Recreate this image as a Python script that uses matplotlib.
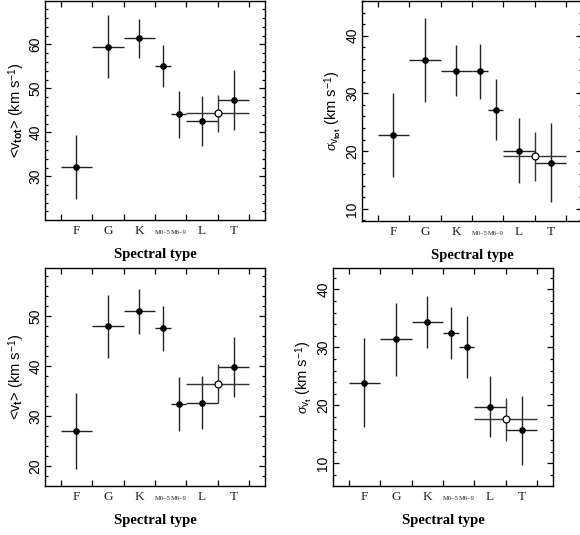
import numpy as np
import matplotlib
matplotlib.use("Agg")
import matplotlib.pyplot as plt
from matplotlib.ticker import MultipleLocator, FixedLocator

# ── spectral-type bins (x = position on the spectral type axis) ─────────────
spt_names = ["F", "G", "K", "M0-5", "M6-9", "L", "T"]
bin_lo = [0.0, 1.0, 2.0, 3.0, 3.5, 4.0, 5.0]
bin_hi = [1.0, 2.0, 3.0, 3.5, 4.0, 5.0, 6.0]
# combined L+T sample (open circle)
lt_lo, lt_hi = 4.0, 6.0

# ── values ───────────────────────────────────────────────────────────────────
vtot_mean = [32.1, 59.5, 61.4, 55.1, 44.1, 42.6, 47.3]
vtot_mean_err = [7.2, 7.2, 4.4, 4.8, 5.3, 5.6, 6.8]
vtot_mean_lt, vtot_mean_lt_err = 44.3, 4.2

vtot_sig = [22.8, 35.8, 33.9, 33.8, 27.2, 20.1, 18.0]
vtot_sig_err = [7.2, 7.3, 4.4, 4.8, 5.3, 5.6, 6.8]
vtot_sig_lt, vtot_sig_lt_err = 19.1, 4.2

vt_mean = [27.1, 48.0, 51.0, 47.6, 32.5, 32.7, 39.8]
vt_mean_err = [7.6, 6.3, 4.5, 4.5, 5.4, 5.3, 6.0]
vt_mean_lt, vt_mean_lt_err = 36.5, 3.9

vt_sig = [23.9, 31.4, 34.4, 32.5, 30.1, 19.8, 15.7]
vt_sig_err = [7.7, 6.3, 4.5, 4.5, 5.4, 5.3, 5.9]
vt_sig_lt, vt_sig_lt_err = 17.6, 3.75

SANS = ["Liberation Sans", "DejaVu Sans"]
SERIF = ["Liberation Serif", "DejaVu Serif"]
plt.rcParams["mathtext.fontset"] = "custom"
plt.rcParams["mathtext.rm"] = "Liberation Sans"
plt.rcParams["mathtext.bf"] = "Liberation Sans:bold"
plt.rcParams["mathtext.it"] = "Liberation Serif:italic"


def draw_panel(ax, mean, err, lt_val, lt_err, ylim, yticks, ylabel):
    lo = np.array(bin_lo)
    hi = np.array(bin_hi)
    x = (lo + hi) / 2
    ax.errorbar(x, mean, xerr=(hi - lo) / 2, yerr=err, fmt="o", ms=3.8,
                color="k", ecolor="#222222", elinewidth=1.0, capsize=0,
                zorder=3)
    ax.errorbar([(lt_lo + lt_hi) / 2], [lt_val], xerr=[(lt_hi - lt_lo) / 2],
                yerr=[lt_err], fmt="o", ms=5, mfc="white", mec="k", mew=0.9,
                color="k", ecolor="#333333", elinewidth=1.0, capsize=0,
                zorder=4)

    ax.set_xlim(-0.5, 6.5)
    ax.set_ylim(*ylim)
    ax.xaxis.set_major_locator(FixedLocator(range(7)))
    ax.set_xticklabels([])
    ax.yaxis.set_major_locator(FixedLocator(yticks))
    ax.yaxis.set_minor_locator(MultipleLocator(2))
    ax.tick_params(which="both", direction="in", top=True, right=True,
                   width=0.9, color="k")
    ax.tick_params(which="major", length=4.5)
    ax.tick_params(which="minor", length=2.5)
    ax.tick_params(axis="y", labelsize=10, pad=2)
    for lab in ax.get_yticklabels():
        lab.set_rotation(90)
        lab.set_va("center")
        lab.set_family(SANS)
    for s in ax.spines.values():
        s.set_linewidth(1.0)

    # spectral type names under the bins
    for name, a, b in zip(spt_names, bin_lo, bin_hi):
        small = name.startswith("M")
        ax.text((a + b) / 2, -0.065, name.replace("-", "\u2013"),
                transform=ax.get_xaxis_transform(), ha="center",
                va="baseline", fontsize=4.8 if small else 9.5,
                family=SERIF, color="#222222")

    ax.set_xlabel("Spectral type", family=SERIF, fontweight="bold",
                  fontsize=10.5, labelpad=17)
    ax.set_ylabel(ylabel, family=SANS, fontsize=10.5, labelpad=1)


fig = plt.figure(figsize=(5.8, 5.35), dpi=100)
W, H = 580.0, 535.0


def add_axes(left, top, right, bottom):
    return fig.add_axes([left / W, 1 - bottom / H, (right - left) / W,
                         (bottom - top) / H])


ax1 = add_axes(45, 1, 265, 220)
ax2 = add_axes(362, 1, 582, 221)
ax3 = add_axes(45, 268, 265, 486)
ax4 = add_axes(333, 268, 553, 486)

draw_panel(ax1, vtot_mean, vtot_mean_err, vtot_mean_lt, vtot_mean_lt_err,
           (20.05, 69.9), [30, 40, 50, 60],
           r"<v$_{\mathbf{tot}}$> (km s$^{-1}$)")
draw_panel(ax2, vtot_sig, vtot_sig_err, vtot_sig_lt, vtot_sig_lt_err,
           (7.9, 46.0), [10, 20, 30, 40],
           r"$\mathit{\sigma}_{\mathrm{v}_{\mathbf{tot}}}$ (km s$^{-1}$)")
draw_panel(ax3, vt_mean, vt_mean_err, vt_mean_lt, vt_mean_lt_err,
           (16.1, 59.6), [20, 30, 40, 50],
           r"<v$_{\mathbf{t}}$> (km s$^{-1}$)")
draw_panel(ax4, vt_sig, vt_sig_err, vt_sig_lt, vt_sig_lt_err,
           (6.1, 43.7), [10, 20, 30, 40],
           r"$\mathit{\sigma}_{\mathrm{v}_{\mathbf{t}}}$ (km s$^{-1}$)")

fig.savefig("out.png", dpi=100)
